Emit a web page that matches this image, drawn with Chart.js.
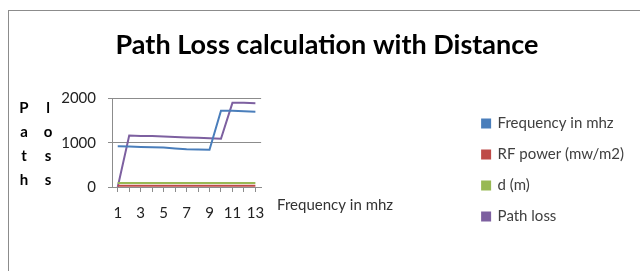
<!DOCTYPE html>
<html>
<head>
<meta charset="utf-8">
<script src="https://cdn.jsdelivr.net/npm/chart.js@4/dist/chart.umd.min.js"></script>
<style>
  html, body { margin: 0; padding: 0; background: #fff; }
  #wrap { position: relative; width: 640px; height: 271px; }
  #frame { position: absolute; left: 8px; top: 10px; width: 700px; height: 300px;
           border-left: 1px solid #8c8c8c; border-top: 1px solid #8c8c8c; }
  #c { position: absolute; left: 0; top: 0; }
</style>
</head>
<body>
<div id="wrap">
  <div id="frame"></div>
  <canvas id="c" width="640" height="271"></canvas>
</div>
<script>
// values
const categories = ["1","2","3","4","5","6","7","8","9","10","11","12","13"];
const frequency = [920, 915, 905, 900, 890, 870, 850, 845, 840, 1720, 1720, 1710, 1700];
const rfPower   = [30, 30, 30, 30, 30, 30, 30, 30, 30, 30, 30, 30, 30];
const distance  = [90, 90, 90, 90, 90, 90, 90, 90, 90, 90, 90, 90, 90];
const pathLoss  = [0, 1160, 1150, 1150, 1140, 1130, 1120, 1110, 1100, 1090, 1900, 1900, 1890];
const seriesNames = ["Frequency in mhz", "RF power (mw/m2)", "d (m)", "Path loss"];
const seriesColors = ["#4a7ebb", "#be4b48", "#98b954", "#7d60a0"];
const yTicks = [0, 1000, 2000];

const font = "Lato";

// vertical "Path loss" title and the depth axis caption
const extraText = {
    id: "extraText",
    afterDraw(chart) {
        const ctx = chart.ctx;
        const area = chart.chartArea;
        ctx.save();
        ctx.fillStyle = "#000";
        ctx.font = "bold 15px " + font;
        ctx.textAlign = "center";
        ctx.textBaseline = "middle";
        const w1 = "Path", w2 = "loss";
        for (let i = 0; i < 4; i++) {
            ctx.fillText(w1[i], 24, 108 + i * 24);
            ctx.fillText(w2[i], 48, 108 + i * 24);
        }
        ctx.font = "15px " + font;
        ctx.fillStyle = "#333";
        ctx.textAlign = "left";
        ctx.fillText(seriesNames[0], area.right + 16, 205);
        ctx.restore();
    }
};

const datasets = [frequency, rfPower, distance, pathLoss].map((d, i) => ({
    label: seriesNames[i],
    data: d,
    borderColor: seriesColors[i],
    backgroundColor: seriesColors[i],
    borderWidth: 2,
    pointRadius: 0,
    tension: 0
}));

new Chart(document.getElementById("c"), {
    type: "line",
    data: { labels: categories, datasets: datasets },
    options: {
        responsive: false,
        animation: false,
        layout: { padding: { left: 20, right: 6, top: 0, bottom: 31 } },
        plugins: {
            title: {
                display: true,
                text: "Path Loss calculation with Distance",
                color: "#000",
                font: { family: font, size: 27, weight: "bold" },
                padding: { top: 29, bottom: 37 }
            },
            legend: {
                position: "right",
                align: "end",
                maxWidth: 220,
                labels: {
                    boxWidth: 8,
                    boxHeight: 8,
                    padding: 16,
                    color: "#404040",
                    font: { family: font, size: 15 }
                }
            },
            tooltip: { enabled: false }
        },
        scales: {
            x: {
                offset: true,
                grid: { drawOnChartArea: false, tickLength: 5, color: "#8c8c8c" },
                border: { color: "#8c8c8c" },
                ticks: {
                    autoSkip: false,
                    maxRotation: 0,
                    padding: 12,
                    color: "#222",
                    font: { family: font, size: 15 },
                    callback: (v, i) => (i % 2 === 0 ? categories[i] : "")
                },
                afterFit: s => { s.height = 53; }
            },
            y: {
                min: 0,
                max: 2000,
                afterBuildTicks: s => { s.ticks = yTicks.map(v => ({ value: v })); },
                grid: { color: "#8c8c8c", tickLength: 4 },
                border: { color: "#8c8c8c" },
                ticks: {
                    padding: 12,
                    color: "#222",
                    font: { family: font, size: 15 },
                    callback: v => String(v)
                },
                afterFit: s => { s.width = 92; }
            },
            depth: {
                type: "linear",
                position: "right",
                grid: { display: false },
                border: { display: false },
                ticks: { display: false },
                afterFit: s => { s.width = 205; }
            }
        }
    },
    plugins: [extraText]
});
</script>
</body>
</html>
